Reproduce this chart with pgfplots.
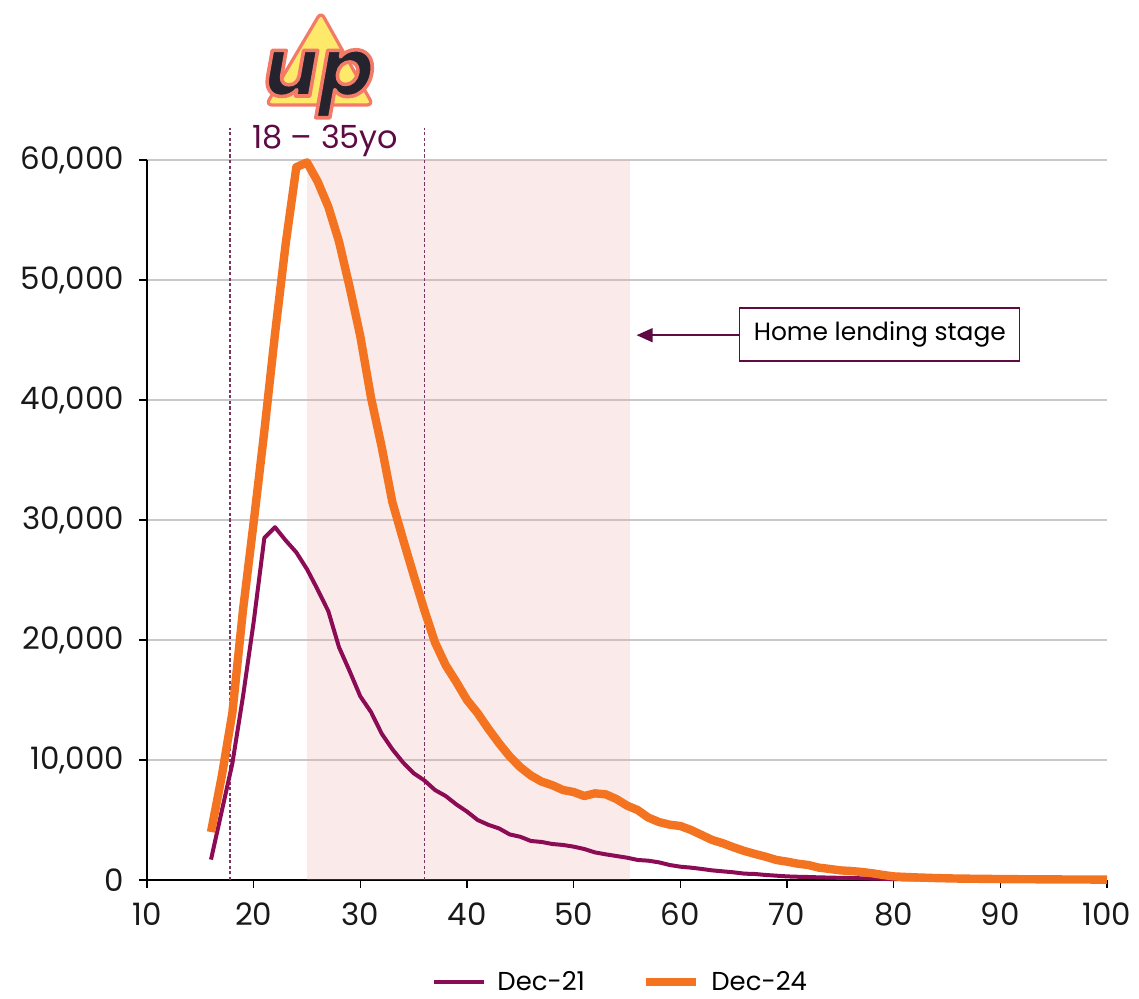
\documentclass[border=0pt]{standalone}
\usepackage{fontspec}
\setmainfont{Poppins}
\usepackage{pgfplots}
\pgfplotsset{compat=1.18}
\usetikzlibrary{arrows.meta}
\definecolor{c21}{HTML}{8C0B55}
\definecolor{c24}{HTML}{F47321}
\definecolor{plum}{HTML}{5E0B45}
\definecolor{dashc}{HTML}{7A3566}
\definecolor{gridc}{HTML}{C8C8C8}
\definecolor{shadec}{HTML}{EBA9A3}
\definecolor{logoY}{HTML}{FFE96B}
\definecolor{logoS}{HTML}{F47A68}
\definecolor{logoD}{HTML}{25232D}
\begin{document}
\begin{tikzpicture}
\path[use as bounding box] (-73.5bp,-59.5bp) rectangle (496bp,440bp);
% logo
\draw[fill=logoY, draw=logoS, line width=1.6bp, rounded corners=3bp, line join=round]
  (87bp,434bp) -- (59.5bp,387.5bp) -- (113bp,387.5bp) -- cycle;
\node[anchor=base, inner sep=0pt] at (86bp,392bp)
   {\fontsize{41}{41}\selectfont\bfseries\itshape\color{logoD}\special{pdf:literal direct 2 Tr 1.8 w 1 j 0.957 0.478 0.408 RG}up\special{pdf:literal direct 0 Tr}};
\begin{axis}[
  at={(0,0)}, anchor=south west,
  scale only axis, width=480bp, height=360bp,
  xmin=10, xmax=100, ymin=0, ymax=60000,
  axis x line*=bottom, axis y line*=left,
  axis line style={black, line width=0.8bp},
  xtick={10,20,...,100}, ytick={0,10000,...,60000},
  tick align=outside, major tick length=4bp,
  tick style={black, line width=0.8bp},
  ymajorgrids, grid style={gridc, line width=0.6bp},
  scaled y ticks=false,
  /pgf/number format/.cd, 1000 sep={,}, assume math mode=true,
  /pgfplots/.cd,
  ticklabel style={font=\fontsize{15.5}{18}\selectfont, text=black!90},
  yticklabel style={xshift=-4bp},
  xticklabel style={yshift=-4bp},
  clip=false,
  legend style={at={(0.494,-0.142)}, anchor=center, draw=none, fill=none,
    legend columns=2, font=\fontsize{13}{15}\selectfont,
    nodes={inner sep=1.5bp},
    /tikz/every odd column/.append style={column sep=4bp},
    /tikz/every even column/.append style={column sep=27bp}},
  legend image code/.code={\draw[#1] (0bp,0bp) -- (25bp,0bp);},
]
\fill[shadec, fill opacity=0.23] (axis cs:25,0) rectangle (axis cs:55.3,60000);
\draw[dashc, line width=0.7bp, dash pattern=on 1.6bp off 1.2bp] (axis cs:17.8,0) -- (axis cs:17.8,62700);
\draw[dashc, line width=0.7bp, dash pattern=on 1.6bp off 1.2bp] (axis cs:36,0) -- (axis cs:36,62700);
\node[text=plum, font=\fontsize{16}{18}\selectfont] at (axis cs:26.7,61600) {18 \textendash{} 35yo};
\addplot[c21, line width=2bp, line join=round] coordinates {
(16,1700)(17,5700)(18,9700)(19,15300)(20,21500)(21,28500)(22,29400)(23,28300)(24,27300)(25,25900)
(26,24200)(27,22400)(28,19400)(29,17400)(30,15300)(31,14000)(32,12200)(33,10900)(34,9800)(35,8900)
(36,8300)(37,7500)(38,7000)(39,6300)(40,5700)(41,5000)(42,4600)(43,4300)(44,3800)(45,3600)
(46,3250)(47,3170)(48,3000)(49,2920)(50,2780)(51,2580)(52,2300)(53,2140)(54,2000)(55,1860)
(56,1670)(57,1610)(58,1470)(59,1250)(60,1110)(61,1030)(62,920)(63,800)(64,720)(65,640)
(66,530)(67,500)(68,420)(69,360)(70,300)(71,270)(72,250)(73,220)(74,200)(75,180)
(76,170)(77,140)(78,120)(79,100)(80,70)(81,60)(82,50)(83,45)(84,40)(85,30)
(86,25)(87,22)(88,20)(89,18)(90,15)(91,12)(92,10)(93,9)(94,8)(95,7)
(96,6)(97,5)(98,5)(99,4)(100,4)
};
\addlegendentry{Dec-21}
\addplot[c24, line width=4.2bp, line join=round] coordinates {
(16,4000)(17,8600)(18,13900)(19,22500)(20,29800)(21,37400)(22,45500)(23,53000)(24,59400)(25,59800)
(26,58200)(27,56100)(28,53200)(29,49400)(30,45300)(31,40200)(32,36100)(33,31500)(34,28400)(35,25400)
(36,22500)(37,19800)(38,17900)(39,16500)(40,15000)(41,13900)(42,12600)(43,11400)(44,10300)(45,9400)
(46,8700)(47,8200)(48,7900)(49,7500)(50,7330)(51,7000)(52,7220)(53,7140)(54,6750)(55,6200)
(56,5830)(57,5200)(58,4830)(59,4610)(60,4500)(61,4170)(62,3750)(63,3330)(64,3060)(65,2720)
(66,2420)(67,2170)(68,1940)(69,1670)(70,1530)(71,1360)(72,1250)(73,1030)(74,920)(75,800)
(76,750)(77,670)(78,560)(79,420)(80,300)(81,260)(82,220)(83,190)(84,160)(85,140)
(86,120)(87,110)(88,100)(89,90)(90,80)(91,70)(92,65)(93,60)(94,55)(95,50)
(96,45)(97,40)(98,40)(99,35)(100,30)
};
\addlegendentry{Dec-24}
\draw[plum, line width=0.7bp, -{Triangle[length=8bp,width=7bp]}] (axis cs:65.6,45400) -- (axis cs:55.9,45400);
\node[draw=plum, line width=0.7bp, fill=white, minimum width=140bp, minimum height=26.5bp, inner sep=0pt,
  font=\fontsize{12.5}{15}\selectfont, text=black] at (axis cs:78.7,45460) {Home lending stage};
\end{axis}
\end{tikzpicture}
\end{document}
